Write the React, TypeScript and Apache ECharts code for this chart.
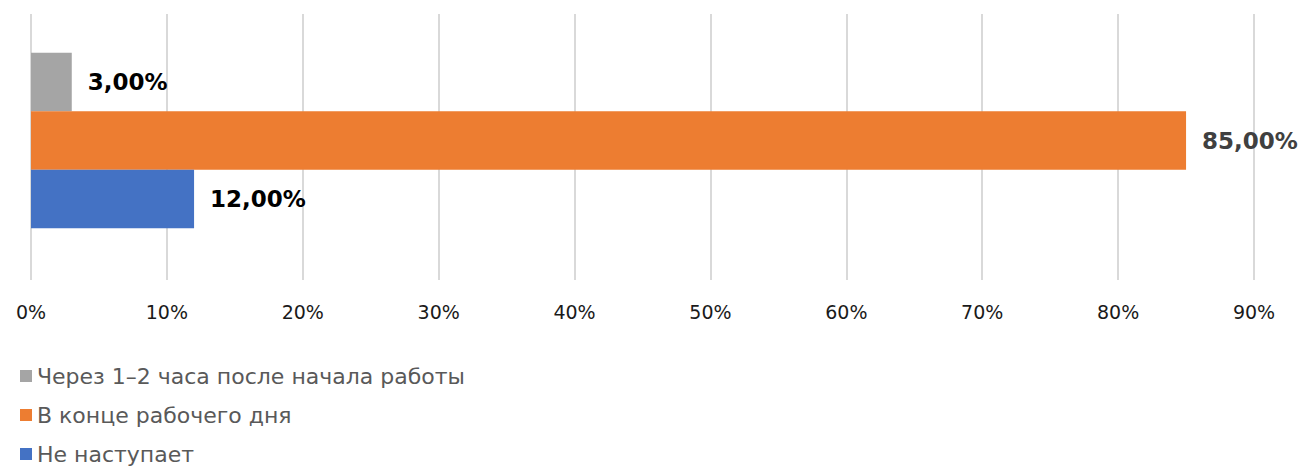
import React, { useEffect, useRef } from "react";
import * as echarts from "echarts";

const categories = ["Время"];
const seriesNames = [
  "Через 1–2 часа после начала работы",
  "В конце рабочего дня",
  "Не наступает",
];
const seriesValues = [[3], [85], [12]];
const seriesColors = ["#a5a5a5", "#ed7d31", "#4472c4"];
const labelColors = ["#000000", "#404040", "#000000"];
const xTicks = { min: 0, max: 90, interval: 10 };
const FONT = "'DejaVu Sans', 'Open Sans', sans-serif";
const legendTops = [365, 404, 443];

export default function App() {
  const ref = useRef<HTMLDivElement>(null);
  useEffect(() => {
    if (!ref.current) return;
    const chart = echarts.init(ref.current, null, { renderer: "svg" });
    chart.setOption({
      animation: false,
      grid: [
        { left: 31, right: 49, top: 14, bottom: 186 },
        { left: 31, right: 49, top: 7.5, bottom: 192.5 },
      ],
      xAxis: [
        {
          type: "value",
          gridIndex: 0,
          ...xTicks,
          axisLabel: {
            formatter: (v: number) => `${v}%`,
            fontSize: 19,
            color: "#1a1a1a",
            fontFamily: FONT,
            margin: 22,
          },
          axisLine: { show: false },
          axisTick: { show: false },
          splitLine: { show: true, lineStyle: { color: "#d9d9d9", width: 2 } },
        },
        {
          type: "value",
          gridIndex: 1,
          ...xTicks,
          show: false,
          splitLine: { show: false },
        },
      ],
      yAxis: [
        {
          type: "category",
          gridIndex: 0,
          data: categories,
          axisLabel: { show: false },
          axisLine: { show: false },
          axisTick: { show: false },
        },
        {
          type: "category",
          gridIndex: 1,
          data: categories,
          show: false,
        },
      ],
      legend: seriesNames.map((name, i) => ({
        orient: "vertical",
        left: 20,
        top: legendTops[i],
        padding: 0,
        itemWidth: 12,
        itemHeight: 12,
        itemGap: 6,
        icon: "rect",
        data: [name],
        textStyle: { fontSize: 22, lineHeight: 22, color: "#595959", fontFamily: FONT },
      })),
      series: seriesNames.map((name, i) => ({
        name,
        type: "bar",
        xAxisIndex: 1,
        yAxisIndex: 1,
        data: seriesValues[i],
        barGap: "0%",
        barCategoryGap: "34%",
        itemStyle: { color: seriesColors[i] },
        label: {
          show: true,
          position: "right",
          distance: 16,
          formatter: (p: any) => `${p.value.toFixed(2).replace(".", ",")}%`,
          fontSize: 23,
          fontWeight: "bold",
          color: labelColors[i],
          fontFamily: FONT,
        },
      })),
    });
    return () => chart.dispose();
  }, []);
  return <div ref={ref} style={{ width: 1303, height: 466, position: "absolute", left: 0, top: 0 }} />;
}
